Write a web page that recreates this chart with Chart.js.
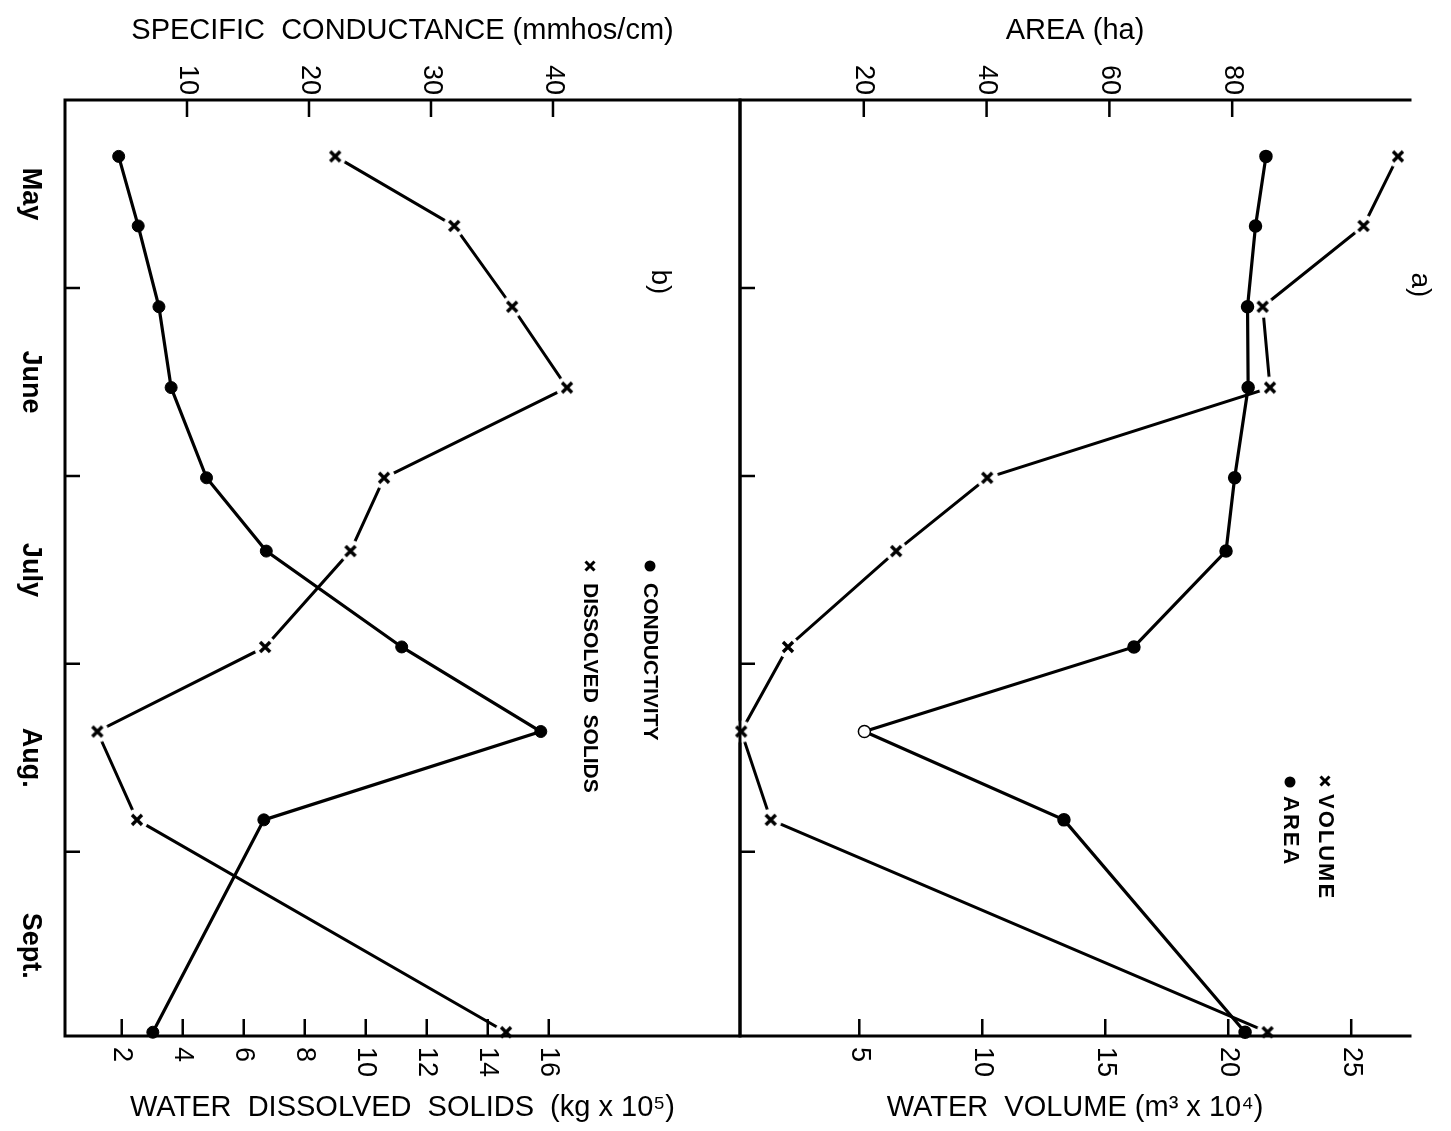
<!DOCTYPE html>
<html><head><meta charset="utf-8">
<script src="https://cdn.jsdelivr.net/npm/chart.js@4.4.0/dist/chart.umd.min.js"></script>
<style>
html,body{margin:0;padding:0;background:#fff;width:1451px;height:1131px;overflow:hidden}
#wb{position:absolute;left:0;top:0;width:742px;height:1131px}
#wa{position:absolute;left:700px;top:0;width:751px;height:1131px}
canvas{display:block}
</style></head><body>
<div id="wb"><canvas id="cb" width="742" height="1131"></canvas></div>
<div id="wa"><canvas id="ca" width="751" height="1131"></canvas></div>
<script>
// ---- data (time in months after 1 May) ----
const months = ['May', 'June', 'July', 'Aug.', 'Sept.'];
const monthBoundaries = [1, 2, 3, 4];
const sampleTimes = [0.30, 0.67, 1.10, 1.53, 2.01, 2.40, 2.91, 3.36, 3.83, 4.96];
const conductivity = [4.4, 6.0, 7.7, 8.7, 11.6, 16.5, 27.6, 39.0, 16.3, 7.2];
const dissolvedSolids = [9.0, 12.9, 14.8, 16.6, 10.6, 9.5, 6.7, 1.2, 2.5, 14.6];
const area = [85.5, 83.8, 82.5, 82.6, 80.4, 79.0, 64.0, 20.1, 52.6, 82.1];
const volume = [26.9, 25.5, 21.4, 21.7, 10.2, 6.5, 2.1, 0.2, 1.4, 21.6];
const condTicks = [10, 20, 30, 40];
const solidsTicks = [2, 4, 6, 8, 10, 12, 14, 16];
const areaTicks = [20, 40, 60, 80];
const volumeTicks = [5, 10, 15, 20, 25];

Chart.defaults.font.family = 'Liberation Sans';
Chart.defaults.color = '#000';

function pts(vals) { return vals.map((v, i) => ({x: v, y: sampleTimes[i]})); }

function makeCross() {
  const c = document.createElement('canvas');
  c.width = 24; c.height = 24;
  const g = c.getContext('2d');
  g.fillStyle = '#fff';
  g.beginPath(); g.arc(12, 12, 11, 0, Math.PI * 2); g.fill();
  g.strokeStyle = '#000'; g.lineWidth = 3.4;
  g.beginPath();
  g.moveTo(7, 7); g.lineTo(17, 17);
  g.moveTo(17, 7); g.lineTo(7, 17);
  g.stroke();
  return c;
}
const cross = makeCross();

function rtext(ctx, str, x, y, font, align) {
  ctx.save();
  ctx.translate(x, y);
  ctx.rotate(Math.PI / 2);
  ctx.font = font;
  ctx.textAlign = align;
  ctx.textBaseline = 'middle';
  ctx.fillStyle = '#000';
  ctx.fillText(str, 0, 0);
  ctx.restore();
}
function legDot(ctx, x, y) {
  ctx.beginPath(); ctx.arc(x, y, 5.5, 0, Math.PI * 2); ctx.fillStyle = '#000'; ctx.fill();
}
function legCross(ctx, x, y) {
  ctx.beginPath(); ctx.lineWidth = 3; ctx.strokeStyle = '#000';
  ctx.moveTo(x - 4.5, y - 4.5); ctx.lineTo(x + 4.5, y + 4.5);
  ctx.moveTo(x + 4.5, y - 4.5); ctx.lineTo(x - 4.5, y + 4.5);
  ctx.stroke();
}

const tickFont = '27px Liberation Sans';
const titleFont = {family: 'Liberation Sans', size: 29};

function timeScale(show) {
  const s = {
    type: 'linear', position: 'left', min: 0, max: 4.98, reverse: true,
    display: show, grid: {display: false}, border: {display: false},
    ticks: {display: false}
  };
  if (show) s.afterFit = sc => { sc.width = 65; };
  return s;
}
function valScale(pos, min, max, title) {
  return {
    type: 'linear', position: pos, min: min, max: max,
    grid: {display: false}, border: {display: false}, ticks: {display: false},
    title: {display: true, text: title, font: titleFont, color: '#000',
            padding: pos === 'top' ? {top: 14, bottom: 0} : {top: 0, bottom: 6}},
    afterFit(s) { s.height = pos === 'top' ? 100 : 95; }
  };
}

function drawFrame(ctx, a, t, leftLine, rightLine) {
  ctx.save();
  ctx.strokeStyle = '#000'; ctx.lineWidth = 3; ctx.lineCap = 'square';
  ctx.beginPath();
  ctx.moveTo(a.left, a.top); ctx.lineTo(a.right, a.top);
  ctx.moveTo(a.left, a.bottom); ctx.lineTo(a.right, a.bottom);
  if (leftLine) { ctx.moveTo(a.left, a.top); ctx.lineTo(a.left, a.bottom); }
  if (rightLine) { ctx.moveTo(a.right, a.top); ctx.lineTo(a.right, a.bottom); }
  ctx.stroke();
  ctx.lineWidth = 2.5; ctx.lineCap = 'butt';
  ctx.beginPath();
  monthBoundaries.forEach(b => {
    const y = t.getPixelForValue(b);
    ctx.moveTo(a.left, y); ctx.lineTo(a.left + 15, y);
  });
  ctx.stroke();
  ctx.restore();
}
function drawValTicks(ctx, a, sc, vals, top) {
  ctx.save();
  ctx.strokeStyle = '#000'; ctx.lineWidth = 2.5;
  ctx.beginPath();
  vals.forEach(v => {
    const x = sc.getPixelForValue(v);
    if (top) { ctx.moveTo(x, a.top); ctx.lineTo(x, a.top + 17); }
    else { ctx.moveTo(x, a.bottom); ctx.lineTo(x, a.bottom - 17); }
  });
  ctx.stroke();
  vals.forEach(v => {
    const x = sc.getPixelForValue(v);
    if (top) rtext(ctx, String(v), x, a.top - 5, tickFont, 'right');
    else rtext(ctx, String(v), x, a.bottom + 11, tickFont, 'left');
  });
  ctx.restore();
}

const panelB = {
  id: 'panelB',
  afterDraw(chart) {
    const {ctx, chartArea: a, scales} = chart;
    drawFrame(ctx, a, scales.t, true, true);
    drawValTicks(ctx, a, scales.cond, condTicks, true);
    drawValTicks(ctx, a, scales.ds, solidsTicks, false);
    months.forEach((m, i) => {
      rtext(ctx, m, a.left - 35, scales.t.getPixelForValue(i + 0.5), 'bold 27px Liberation Sans', 'center');
    });
    ctx.save();
    legDot(ctx, a.left + 585, 566);
    rtext(ctx, 'CONDUCTIVITY', a.left + 585, 583, 'bold 21px Liberation Sans', 'left');
    legCross(ctx, a.left + 525, 566);
    rtext(ctx, 'DISSOLVED  SOLIDS', a.left + 525, 583, 'bold 21px Liberation Sans', 'left');
    rtext(ctx, 'b)', a.left + 595, 282, '28px Liberation Sans', 'center');
    ctx.restore();
  }
};
const panelA = {
  id: 'panelA',
  afterDraw(chart) {
    const {ctx, chartArea: a, scales} = chart;
    drawFrame(ctx, a, scales.t, true, false);
    drawValTicks(ctx, a, scales.area, areaTicks, true);
    drawValTicks(ctx, a, scales.vol, volumeTicks, false);
    ctx.save();
    ctx.letterSpacing = '2px';
    legCross(ctx, a.left + 585, 781);
    rtext(ctx, 'VOLUME', a.left + 585, 794, 'bold 22px Liberation Sans', 'left');
    legDot(ctx, a.left + 550, 782);
    rtext(ctx, 'AREA', a.left + 550, 796, 'bold 22px Liberation Sans', 'left');
    ctx.letterSpacing = '0px';
    rtext(ctx, 'a)', a.right + 10, 285, '28px Liberation Sans', 'center');
    ctx.restore();
  }
};

const common = {
  responsive: false, animation: false, devicePixelRatio: 1,
  plugins: {legend: {display: false}, tooltip: {enabled: false}}
};

new Chart(document.getElementById('cb'), {
  type: 'scatter',
  data: {datasets: [
    {label: 'CONDUCTIVITY', data: pts(conductivity), xAxisID: 'cond', yAxisID: 't',
     showLine: true, borderColor: '#000', borderWidth: 3.2, tension: 0, clip: false,
     pointRadius: 6, pointBackgroundColor: '#000', pointBorderColor: '#000', pointBorderWidth: 1},
    {label: 'DISSOLVED SOLIDS', data: pts(dissolvedSolids), xAxisID: 'ds', yAxisID: 't',
     showLine: true, borderColor: '#000', borderWidth: 3, tension: 0, clip: false,
     pointStyle: cross, pointRadius: 6}
  ]},
  options: Object.assign({}, common, {
    layout: {autoPadding: false, padding: {left: 0, right: 2, top: 0, bottom: 0}},
    scales: {
      t: timeScale(true),
      cond: valScale('top', 0, 55.33, 'SPECIFIC  CONDUCTANCE (mmhos/cm)'),
      ds: valScale('bottom', 0.14, 22.27, 'WATER  DISSOLVED  SOLIDS  (kg x 10⁵)')
    }
  }),
  plugins: [panelB]
});

new Chart(document.getElementById('ca'), {
  type: 'scatter',
  data: {datasets: [
    {label: 'AREA', data: pts(area), xAxisID: 'area', yAxisID: 't',
     showLine: true, borderColor: '#000', borderWidth: 3.2, tension: 0, clip: false,
     pointRadius: 6, pointBorderColor: '#000', pointBorderWidth: 1.5,
     pointBackgroundColor: c => (c.dataIndex === 7 ? '#fff' : '#000')},
    {label: 'VOLUME', data: pts(volume), xAxisID: 'vol', yAxisID: 't',
     showLine: true, borderColor: '#000', borderWidth: 3, tension: 0, clip: false,
     pointStyle: cross, pointRadius: 6}
  ]},
  options: Object.assign({}, common, {
    layout: {autoPadding: false, padding: {left: 40, right: 41, top: 0, bottom: 0}},
    scales: {
      t: timeScale(false),
      area: valScale('top', -0.16, 108.96, 'AREA (ha)'),
      vol: valScale('bottom', 0.15, 27.39, 'WATER  VOLUME (m³ x 10⁴)')
    }
  }),
  plugins: [panelA]
});
</script>
</body></html>
